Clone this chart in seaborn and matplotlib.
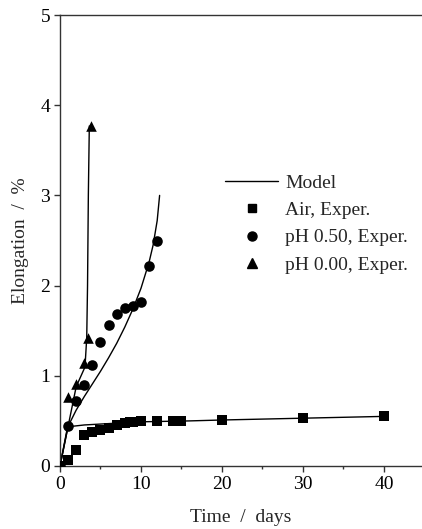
import numpy as np
import pandas as pd
import matplotlib
matplotlib.use("Agg")
import matplotlib.pyplot as plt
import seaborn as sns
from matplotlib.ticker import MultipleLocator
from matplotlib.lines import Line2D

# Experimental data
air_t = [0, 1, 2, 3, 4, 5, 6, 7, 8, 8.7, 9, 10, 12, 14, 15, 20, 30, 40]
air_e = [0, 0.07, 0.18, 0.34, 0.38, 0.40, 0.42, 0.46, 0.48, 0.49, 0.49, 0.50, 0.50, 0.50, 0.50, 0.51, 0.53, 0.55]
ph050_t = [0, 1, 2, 3, 4, 5, 6, 7, 8, 9, 10, 11, 12]
ph050_e = [0, 0.44, 0.72, 0.90, 1.12, 1.37, 1.56, 1.69, 1.75, 1.77, 1.82, 2.22, 2.50]
ph000_t = [0, 1, 2, 3, 3.5, 3.8]
ph000_e = [0, 0.76, 0.91, 1.14, 1.42, 3.77]

# Model curves
mair_t = [0, 0.9, 1.5, 3, 5, 10, 16, 20, 30, 40]
mair_e = [0, 0.42, 0.44, 0.455, 0.465, 0.49, 0.50, 0.51, 0.53, 0.55]
m050_t = [0, 1, 2, 3, 4, 5, 6, 7, 8, 9, 10, 11, 11.5, 12, 12.3]
m050_e = [0, 0.44, 0.62, 0.77, 0.91, 1.05, 1.20, 1.36, 1.54, 1.74, 1.97, 2.26, 2.45, 2.72, 3.0]
m000_t = [0, 1, 2, 3, 3.1, 3.3, 3.4, 3.5, 3.62]
m000_e = [0, 0.44, 0.88, 1.08, 1.12, 1.42, 2.0, 3.0, 3.77]

labels = ["Model", "Air, Exper.", "pH 0.50, Exper.", "pH 0.00, Exper."]

sns.set_style("ticks")
plt.rcParams['font.family'] = ['Liberation Serif', 'DejaVu Serif']
plt.rcParams['font.size'] = 14

fig = plt.figure(figsize=(4.22, 5.29), dpi=100)
ax = fig.add_axes([60/422, 1 - 466/529, 1 - 60/422, (466 - 15)/529])

for t, e in [(mair_t, mair_e), (m050_t, m050_e), (m000_t, m000_e)]:
    sns.lineplot(x=t, y=e, ax=ax, color="black", lw=1.0, sort=False, estimator=None)

ms = 44
sns.scatterplot(x=air_t, y=air_e, ax=ax, marker="s", color="black", s=ms, edgecolor="black", linewidth=0, zorder=3)
sns.scatterplot(x=ph050_t, y=ph050_e, ax=ax, marker="o", color="black", s=ms + 14, edgecolor="black", linewidth=0, zorder=3)
sns.scatterplot(x=ph000_t, y=ph000_e, ax=ax, marker="^", color="black", s=ms + 14, edgecolor="black", linewidth=0, zorder=3)

ax.set_xlim(0, 44.7)
ax.set_ylim(0, 5)
ax.xaxis.set_major_locator(MultipleLocator(10))
ax.xaxis.set_minor_locator(MultipleLocator(5))
ax.yaxis.set_major_locator(MultipleLocator(1))
ax.tick_params(axis='both', which='major', direction='out', length=4, width=1, colors='#333333',
               labelcolor='black', labelsize=14, pad=3)
ax.tick_params(axis='x', which='minor', direction='out', length=2.5, width=1, colors='#333333')
ax.spines['right'].set_visible(False)
for s in ['left', 'top', 'bottom']:
    ax.spines[s].set_color('#333333')
    ax.spines[s].set_linewidth(1.0)

ax.set_xlabel("Time  /  days", fontsize=14, labelpad=12)
ax.set_ylabel("Elongation  /  %", fontsize=14, labelpad=8)

handles = [
    Line2D([], [], color="black", lw=1.0),
    Line2D([], [], marker="s", color="black", ls="none", markersize=6),
    Line2D([], [], marker="o", color="black", ls="none", markersize=6.5),
    Line2D([], [], marker="^", color="black", ls="none", markersize=7),
]
ax.legend(handles, labels, loc="upper left", bbox_to_anchor=(0.456, 0.647), frameon=False,
          fontsize=14, handlelength=2.73, handletextpad=0.36, labelspacing=0.5, borderpad=0,
          borderaxespad=0)

fig.savefig("out.png", dpi=100)
